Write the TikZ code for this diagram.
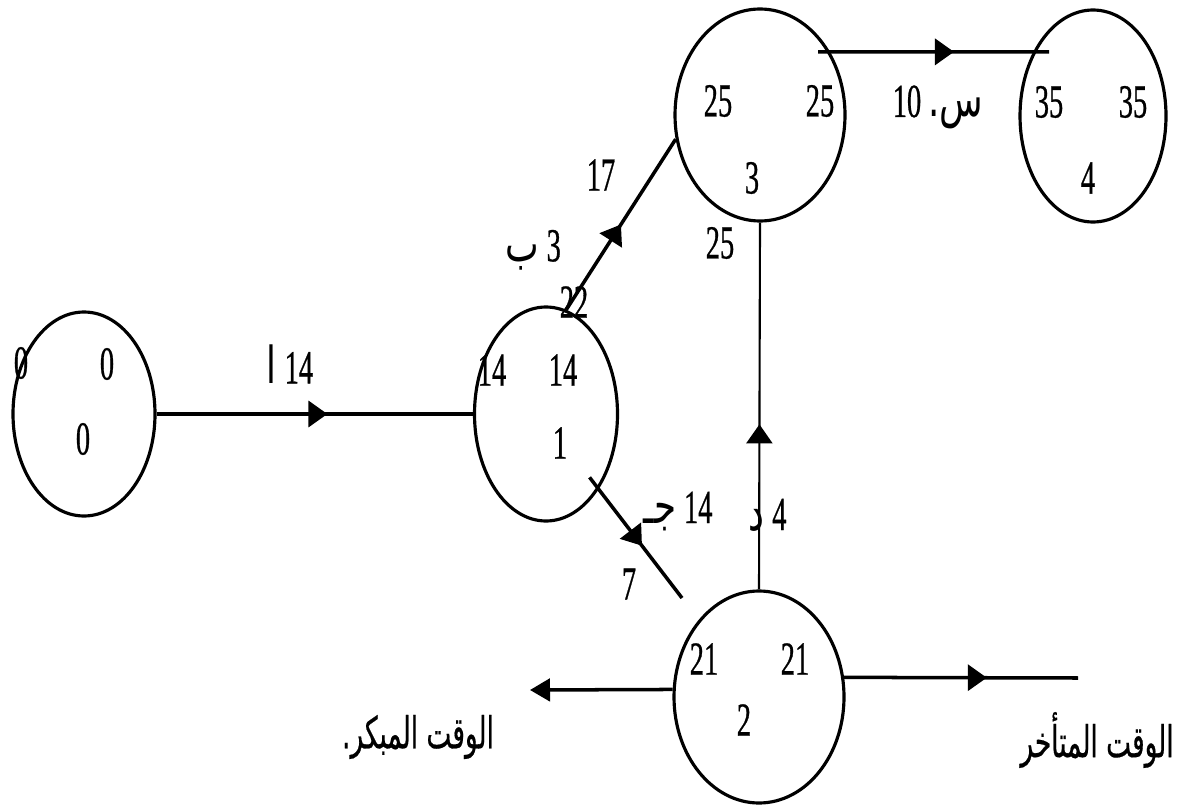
\documentclass[tikz,border=0pt]{standalone}
\usepackage{fontspec}
\setmainfont{Liberation Serif}[FakeStretch=0.6, FakeBold=0.6]
\newfontfamily\arabicfont[Script=Arabic,FakeStretch=0.7]{DejaVu Sans}
\newfontfamily\arabiclabel[Script=Arabic,FakeStretch=0.6,FakeBold=0.4]{DejaVu Sans}
\TeXXeTstate=1
\usetikzlibrary{arrows.meta, shapes.geometric, decorations.markings}

\newcommand{\harf}[1]{{\arabicfont\fontsize{29}{34}\selectfont\beginR #1\endR}}

\begin{document}
\begin{tikzpicture}[
    state/.style={ellipse, draw, line width=1.8pt, inner sep=0pt},
    num/.style={font=\fontsize{27}{32}\selectfont, inner sep=0pt},
    lbl/.style={font=\arabiclabel\fontsize{25}{30}\selectfont, inner sep=0pt},
    link/.style={line width=2pt},
    midarrow/.style={postaction={decorate}, decoration={markings,
        mark=at position #1 with {\arrow{Triangle[length=0.38cm, width=0.52cm]}}}}
]
    \useasboundingbox (0,0) rectangle (23.62,-16.14);

    % Events
    \node[state, minimum width=2.84cm, minimum height=4.08cm] (n0) at (1.68,-8.28) {};
    \node[state, minimum width=2.86cm, minimum height=4.28cm] (n1) at (10.92,-8.28) {};
    \node[state, minimum width=3.4cm, minimum height=4.24cm] (n3) at (15.2,-2.3) {};
    \node[state, minimum width=2.92cm, minimum height=4.24cm] (n4) at (21.86,-2.32) {};
    \node[state, minimum width=3.4cm, minimum height=4.24cm] (n2) at (15.18,-13.94) {};

    % Times inside the events
    \node[num] (e0a) at (0.42,-7.26) {0};
    \node[num] (e0b) at (2.14,-7.28) {0};
    \node[num] (e0c) at (1.66,-8.78) {0};
    \node[num] (e1a) at (9.84,-7.4) {14};
    \node[num] (e1b) at (11.26,-7.4) {14};
    \node[num] (e1c) at (11.2,-8.86) {1};
    \node[num] (e3a) at (14.36,-2.02) {25};
    \node[num] (e3b) at (16.4,-2.02) {25};
    \node[num] (e3c) at (15.04,-3.56) {3};
    \node[num] (e4a) at (20.98,-2.04) {35};
    \node[num] (e4b) at (22.66,-2.04) {35};
    \node[num] (e4c) at (21.76,-3.56) {4};
    \node[num] (e2a) at (14.08,-13.18) {21};
    \node[num] (e2b) at (15.9,-13.18) {21};
    \node[num] (e2c) at (14.88,-14.4) {2};

    % Activities
    \draw[link, midarrow=0.54] (n0.east) -- (n1.west);
    \draw[link, midarrow=0.5] (n1.79) -- (n3.196);
    \draw[link, midarrow=0.61, shorten <=-0.24cm, shorten >=-0.32cm] (n3.42) -- (n4.133);
    \coordinate (b12) at (13.64,-11.96);
    \draw[link, midarrow=0.52, shorten <=-0.3cm] (n1.305) -- (b12);
    \draw[line width=1.2pt, midarrow=0.45] (n2.north) -- (n3.south);

    \node[num] (ta) at (5.8,-7.28) {\harf{ا}\,14};
    \node[num] (tb) at (10.66,-5.0) {\harf{ب}\,3};
    \node[num] (tb1) at (12.02,-3.5) {17};
    \node[num] (tb2) at (11.48,-6.04) {22};
    \node[num] (td1) at (14.4,-4.86) {25};
    \node[num, anchor=base] (tc) at (13.56,-10.46) {\harf{جـ}\,14};
    \node[num] (tc1) at (12.58,-11.68) {7};
    \node[num, anchor=base] (td) at (15.35,-10.6) {\harf{د}\,4};
    \node[num, anchor=base] (tx) at (18.76,-2.34) {10 \harf{س.}};

    % Early and late times
    \coordinate (l2) at (10.6,-13.8);
    \coordinate (r2) at (21.56,-13.56);
    \draw[link, -{Triangle[length=0.4cm, width=0.45cm]}] (n2.175) -- (l2);
    \draw[link, midarrow=0.61] (n2.13) -- (r2);
    \node[lbl] (early) at (8.36,-14.74) {\beginR الوقت المبكر.\endR};
    \node[lbl] (late) at (21.94,-14.8) {\beginR الوقت المتأخر\endR};
\end{tikzpicture}
\end{document}
